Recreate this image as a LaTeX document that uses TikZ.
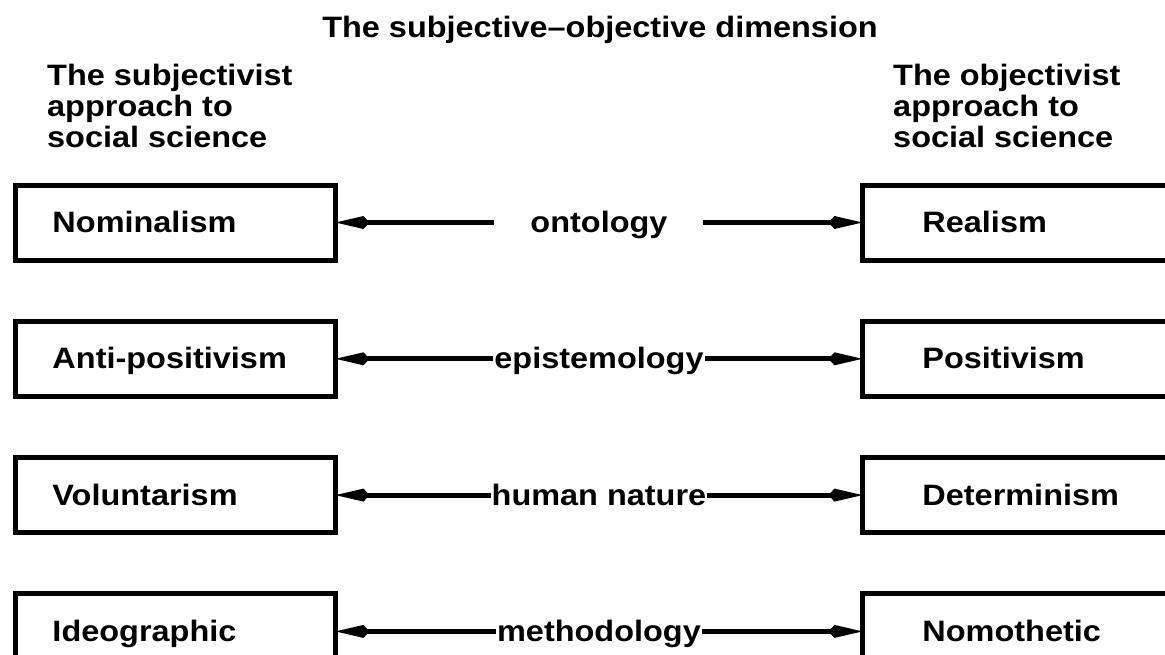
\documentclass[tikz,border=0pt]{standalone}
\usepackage{fontspec}
\setmainfont{Liberation Sans}[FakeStretch=1.1]
\usetikzlibrary{matrix,arrows.meta}

\tikzset{
	every node/.style={font=\bfseries\fontsize{29.5}{31}\selectfont},
	sidebox/.style={draw, line width=5pt, minimum height=75pt, inner ysep=0pt, outer sep=0pt, align=left, anchor=center, text height=20pt, text depth=0pt},
	subjbox/.style={sidebox, text width=246pt, inner xsep=37pt},
	objbox/.style={sidebox, text width=210pt, inner xsep=60pt},
	dimlabel/.style={inner xsep=1pt, inner ysep=0pt, outer sep=0pt, anchor=center, text height=25pt, text depth=5pt},
	link/.style={line width=5pt, -{Kite[length=34pt,width=13pt,inset=6pt]}}
}

\begin{document}
\begin{tikzpicture}[x=1pt, y=-1pt]
		\useasboundingbox (0,0) rectangle (1165,654);
		\clip (0,0) rectangle (1165,654);
		\node (title) [anchor=base] at (600,37) {The subjective--objective dimension};
		\node (subj) [anchor=north west, align=left, inner sep=0pt] at (47,64) {The subjectivist\\approach to\\social science};
		\node (obj) [anchor=north west, align=left, inner sep=0pt] at (893,64) {The objectivist\\approach to\\social science};
		%\matrix(m)[matrix of nodes, row sep=56pt, column sep=150pt]
		\matrix(m)[matrix of nodes, row sep=56.3pt, column sep=152.7pt, inner sep=0pt, outer sep=0pt, anchor=north west,
			column 1/.style={nodes={subjbox}}, column 2/.style={nodes={dimlabel}}, column 3/.style={nodes={objbox}}]
		at (13,182.5)
		{
			Nominalism      & |[inner xsep=36pt]| ontology & Realism \\
			Anti-positivism & epistemology & Positivism \\
			Voluntarism     & human nature & Determinism \\
			Ideographic     & methodology  & Nomothetic \\
		};
		\foreach \r in {1,...,4}
			\path[link] (m-\r-2) edge (m-\r-1) edge (m-\r-3);
		\end{tikzpicture}
\end{document}
